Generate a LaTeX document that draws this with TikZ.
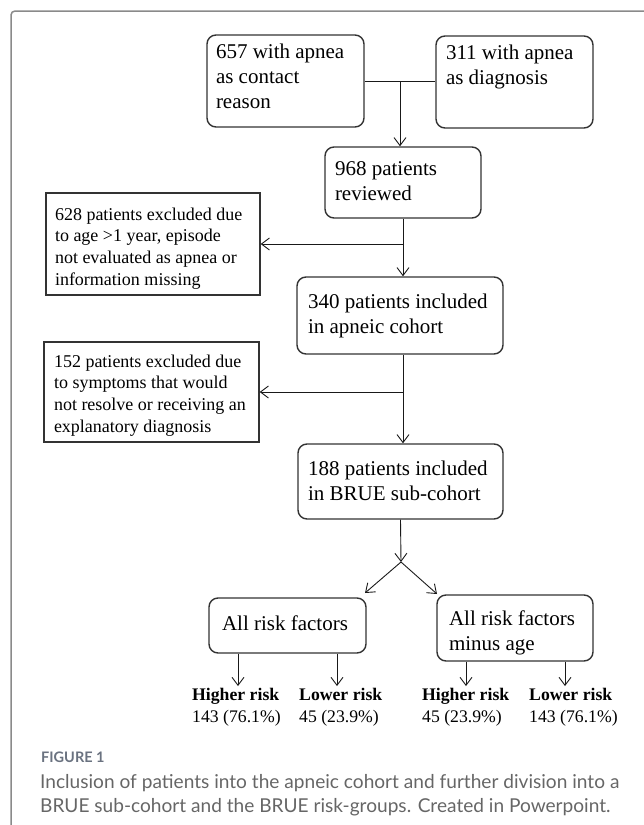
\documentclass[tikz,border=0pt]{standalone}
\usepackage{fontspec}
\setmainfont{Liberation Serif}
\newfontfamily\capfont{Lato}
\usetikzlibrary{arrows.meta}
\definecolor{frameg}{HTML}{8A8A8A}
\definecolor{capg}{HTML}{666666}
\definecolor{figg}{HTML}{6A7280}
\definecolor{boxline}{HTML}{333333}
\newcommand\boxtext[4]{\parbox[c][#1][t]{#2}{\vspace*{#3}\raggedright #4}}
\tikzset{
  rbox/.style={draw=boxline, line width=1.4pt, rounded corners=9pt, inner ysep=0pt, font=\fontsize{21}{25}\selectfont},
  sbox/.style={draw=boxline, line width=1.4pt, inner ysep=0pt, font=\fontsize{18}{21.6}\selectfont},
  conn/.style={draw=black!90, line width=0.9pt},
  arr/.style={conn, -{Straight Barb[length=8pt,width=12pt]}},
  risk/.style={anchor=base west, inner xsep=0pt, inner ysep=2pt, font=\fontsize{17.7}{21.5}\selectfont},
  framestyle/.style={draw=frameg, line width=1.5pt, rounded corners=4pt},
}
\begin{document}
\begin{tikzpicture}[x=1pt,y=-1pt]
\useasboundingbox (0,0) rectangle (643,825);
\draw[framestyle] (11,845) -- (11,11) -- (665,11);

\node[rbox, inner xsep=9pt] (A) at (285.5,81) {\boxtext{92pt}{139pt}{9.2pt}{657 with apnea\\as contact\\reason}};
\node[rbox, inner xsep=10pt] (B) at (514.5,82) {\boxtext{92pt}{137pt}{8.7pt}{311 with apnea\\as diagnosis}};
\node[rbox, inner xsep=10pt] (C) at (403,182.5) {\boxtext{71pt}{136pt}{14.7pt}{968 patients\\reviewed}};
\node[sbox, inner xsep=9pt] (X1) at (153,244) {\boxtext{102pt}{196pt}{14.8pt}{628 patients excluded due\\to age >1 year, episode\\not evaluated as apnea or\\information missing}};
\node[rbox, inner xsep=11pt] (D) at (400,315.5) {\boxtext{77pt}{184pt}{17pt}{340 patients included\\in apneic cohort}};
\node[sbox, inner xsep=10pt] (X2) at (151.5,392) {\boxtext{100pt}{195pt}{12.8pt}{152 patients excluded due\\to symptoms that would\\not resolve or receiving an\\explanatory diagnosis}};
\node[rbox, inner xsep=10pt] (E) at (400.5,481.5) {\boxtext{75pt}{185pt}{16.7pt}{188 patients included\\in BRUE sub-cohort}};
\node[rbox, inner xsep=13pt] (F) at (287.5,625.5) {\boxtext{55pt}{131pt}{17.7pt}{All risk factors}};
\node[rbox, inner xsep=12pt] (G) at (515,628) {\boxtext{66pt}{132pt}{15.7pt}{All risk factors\\minus age}};

\node[risk] (h1) at (192,700.5) {\parbox[t]{95pt}{\textbf{Higher risk}\\143 (76.1\%)}};
\node[risk] (l1) at (299,700.5) {\parbox[t]{95pt}{\textbf{Lower risk}\\45 (23.9\%)}};
\node[risk] (h2) at (422,700.5) {\parbox[t]{95pt}{\textbf{Higher risk}\\45 (23.9\%)}};
\node[risk] (l2) at (529,700.5) {\parbox[t]{100pt}{\textbf{Lower risk}\\143 (76.1\%)}};

\coordinate (J) at (400,81);
\coordinate (S) at (401,562);
\coordinate (sL) at (365,593);
\coordinate (sR) at (437,594);
\coordinate (a1) at (238,0);
\coordinate (a2) at (337,0);
\coordinate (a3) at (466,0);
\coordinate (a4) at (565,0);

\draw[conn] (A.east) -- (A.east -| B.west);
\draw[arr] (J) -- (J |- C.north);
\draw[arr] (C.south) -- (C.south |- D.north);
\draw[arr] (C.south |- X1.east) -- (X1.east);
\draw[arr] (C.south |- D.south) -- (C.south |- E.north);
\draw[arr] (C.south |- X2.east) -- (X2.east);
\draw[arr] (E.south) -- (S);
\draw[arr] (S) -- (sL);
\draw[arr] (S) -- (sR);
\draw[arr] (F.south -| a1) -- (h1.north -| a1);
\draw[arr] (F.south -| a2) -- (l1.north -| a2);
\draw[arr] (G.south -| a3) -- (h2.north -| a3);
\draw[arr] (G.south -| a4) -- (l2.north -| a4);

\node[anchor=base west, inner sep=0pt, font=\capfont\bfseries\fontsize{14.5}{17}\selectfont, text=figg] (fig) at (41,762) {FIGURE 1};
\node[anchor=base west, inner sep=0pt, font=\capfont\fontsize{19.1}{24}\selectfont, text=capg] (cap) at (40,788) {\parbox[t]{610pt}{\raggedright Inclusion of patients into the apneic cohort and further division into a\\BRUE sub-cohort and the BRUE risk-groups. Created in Powerpoint.}};
\end{tikzpicture}
\end{document}
